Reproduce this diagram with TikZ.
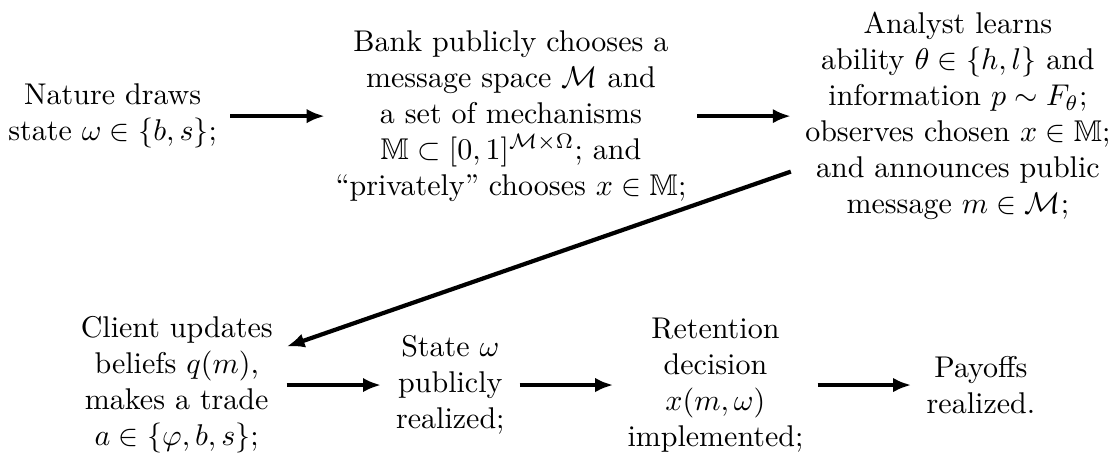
\documentclass[tikz,border=0pt]{standalone}
\usepackage{amsmath,amssymb}
\usetikzlibrary{arrows.meta}

\tikzset{
  stage/.style={align=center, inner sep=0pt},
  arr/.style={-{Latex[length=6pt,width=4.8pt]}, line width=1.4pt},
}

\begin{document}
\begin{tikzpicture}
    \useasboundingbox (0,0) rectangle (12.99,-5.30);

    % 定义各阶段的中心坐标
    \coordinate (N) at (1.32,-1.36);
    \coordinate (B) at (5.985,-1.36);
    \coordinate (A) at (11.22,-1.36);
    \coordinate (C) at (2.07,-4.51);
    \coordinate (S) at (5.275,-4.51);
    \coordinate (R) at (8.38,-4.51);
    \coordinate (P) at (11.49,-4.51);

    % === 第一行 ===
    \node[stage, minimum width=2.74cm] (nature) at (N) {Nature draws\\ state $\omega\in\{b,s\}$;};
    \node[stage, minimum width=4.35cm] (bank) at (B) {Bank publicly chooses a\\ message space $\mathcal{M}$ and\\ a set of mechanisms\\ $\mathbb{M}\subset[0,1]^{\mathcal{M}\times\Omega}$; and\\ ``privately'' chooses $x\in\mathbb{M}$;};
    \node[stage, minimum width=3.9cm] (analyst) at (A) {Analyst learns\\ ability $\theta\in\{h,l\}$ and\\ information $p\sim F_\theta$;\\ observes chosen $x\in\mathbb{M}$;\\ and announces public\\ message $m\in\mathcal{M}$;};

    % === 第二行 ===
    \node[stage, minimum width=2.56cm] (client) at (C) {Client updates\\ beliefs $q(m)$,\\ makes a trade\\ $a\in\{\varphi,b,s\}$;};
    \node[stage, minimum width=1.61cm] (state) at (S) {State $\omega$\\ publicly\\ realized;};
    \node[stage, minimum width=2.38cm] (retention) at (R) {Retention\\ decision\\ $x(m,\omega)$\\ implemented;};
    \node[stage, minimum width=1.62cm] (payoffs) at (P) {Payoffs\\ realized.};

    % 箭头
    \draw[arr] (nature.east |- bank.west) -- (bank.west);
    \draw[arr] (bank.east) -- (analyst.west);
    \draw[arr] ([yshift=-0.65cm]analyst.west) -- ([yshift=0.45cm]client.east);
    \draw[arr] (client.east) -- (state.west);
    \draw[arr] (state.east) -- (retention.west);
    \draw[arr] (retention.east) -- (payoffs.west);
\end{tikzpicture}
\end{document}
